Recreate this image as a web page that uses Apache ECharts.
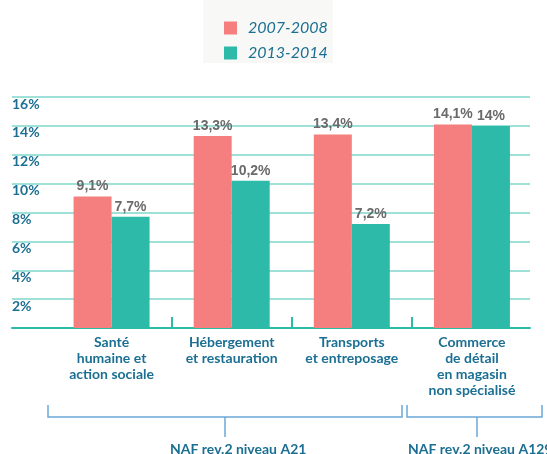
<!DOCTYPE html>
<html>
<head>
<meta charset="utf-8">
<style>
  html, body { margin: 0; padding: 0; background: #ffffff; }
  #chart { width: 547px; height: 454px; }
</style>
<script src="https://cdn.jsdelivr.net/npm/echarts@6/dist/echarts.min.js"></script>
</head>
<body>
<div id="chart"></div>
<script>
// Sectors compared between two periods (share, in %)
const categories = [
  'Santé\nhumaine et\naction sociale',
  'Hébergement\net restauration',
  'Transports\net entreposage',
  'Commerce\nde détail\nen magasin\nnon spécialisé'
];
const seriesNames = ['2007-2008', '2013-2014'];
const values2007 = [9.1, 13.3, 13.4, 14.1];
const values2013 = [7.7, 10.2, 7.2, 14.0];
const yTicks = [0, 2, 4, 6, 8, 10, 12, 14, 16];
const groupLabels = ['NAF rev.2 niveau A21', 'NAF rev.2 niveau A129'];

const PINK = '#f47f7e';
const TEAL = '#2dbaa9';
const TEXT = '#1b6f93';
const BRACKET = '#6aa8d8';
const FONT = 'Lato, "Open Sans", sans-serif';

const fmt = v => String(v).replace('.', ',') + '%';

// boundaries between neighbouring categories (interior only)
const innerBoundaries = categories.slice(1).map((_, i) => i + 1);

const chart = echarts.init(document.getElementById('chart'), null, { renderer: 'canvas' });

const gridTop = 97, gridBottom = 126;

const valueLabel = {
  show: true, position: 'top', distance: 3, color: '#6a6a6a',
  fontSize: 14, fontWeight: 'bold', fontFamily: '"Liberation Sans", Arial, sans-serif',
  formatter: p => fmt(p.value)
};

chart.setOption({
  backgroundColor: '#ffffff',
  animation: false,
  graphic: [
    // legend panel
    { type: 'rect', left: 203, top: 0, shape: { width: 130, height: 63 },
      style: { fill: '#f8f8f6' }, z: -1, silent: true },
    // group brackets
    { type: 'polyline', shape: { points: [[48, 405], [48, 417], [402, 417], [402, 405]] },
      style: { stroke: BRACKET, lineWidth: 1.5, fill: null } },
    { type: 'line', shape: { x1: 225, y1: 417, x2: 225, y2: 437 },
      style: { stroke: BRACKET, lineWidth: 1.5 } },
    { type: 'polyline', shape: { points: [[407, 405], [407, 417], [542, 417], [542, 405]] },
      style: { stroke: BRACKET, lineWidth: 1.5, fill: null } },
    { type: 'line', shape: { x1: 477, y1: 417, x2: 477, y2: 437 },
      style: { stroke: BRACKET, lineWidth: 1.5 } },
    { type: 'text', left: 170, top: 442,
      style: { text: groupLabels[0], fill: TEXT, font: 'bold 14px ' + FONT } },
    { type: 'text', left: 408, top: 442,
      style: { text: groupLabels[1], fill: TEXT, font: 'bold 14px ' + FONT } }
  ],
  legend: {
    data: seriesNames,
    orient: 'vertical',
    left: 219,
    top: 15,
    itemWidth: 13,
    itemHeight: 13,
    itemGap: 9,
    icon: 'rect',
    textStyle: { color: TEXT, fontSize: 16, fontStyle: 'italic', fontFamily: FONT, padding: [0, 0, 0, 6] }
  },
  grid: [
    { left: 12, right: 17, top: gridTop, bottom: gridBottom },
    { left: 51.5, right: 15, top: gridTop, bottom: gridBottom }
  ],
  xAxis: [
    {
      gridIndex: 0, type: 'category', data: [''],
      axisLine: { show: true, lineStyle: { color: TEAL, width: 2 } },
      axisTick: { show: false }, axisLabel: { show: false }, splitLine: { show: false }
    },
    {
      gridIndex: 1, type: 'category', data: categories,
      axisLine: { show: false },
      axisTick: { show: false },
      axisLabel: {
        interval: 0, margin: 6, color: TEXT, fontSize: 14, fontWeight: 'bold',
        fontFamily: FONT, lineHeight: 16, align: 'center'
      }
    },
    {
      // separator ticks between categories
      gridIndex: 1, type: 'value', min: 0, max: categories.length, interval: 1,
      position: 'bottom',
      axisLine: { show: false },
      axisLabel: { show: false },
      splitLine: { show: false },
      axisTick: {
        show: true, inside: true, length: 11,
        customValues: innerBoundaries,
        lineStyle: { color: TEAL, width: 2 }
      }
    }
  ],
  yAxis: [
    {
      gridIndex: 0, type: 'value', min: yTicks[0], max: yTicks[yTicks.length - 1], interval: 2,
      axisLine: { show: false }, axisTick: { show: false },
      splitLine: { show: true, lineStyle: { color: '#7fd6cb', width: 1.5 } },
      axisLabel: {
        inside: true, margin: 0, verticalAlign: 'top', align: 'left',
        color: TEXT, fontSize: 14, fontWeight: 'bold', fontFamily: FONT,
        formatter: v => (v === 0 ? '' : v + '%')
      }
    },
    {
      gridIndex: 1, type: 'value', min: yTicks[0], max: yTicks[yTicks.length - 1], interval: 2,
      show: false
    }
  ],
  series: [
    {
      name: seriesNames[0], type: 'bar', xAxisIndex: 1, yAxisIndex: 1,
      data: values2007, barWidth: 38, barGap: 0,
      itemStyle: { color: PINK },
      label: valueLabel
    },
    {
      name: seriesNames[1], type: 'bar', xAxisIndex: 1, yAxisIndex: 1,
      data: values2013, barWidth: 38, barGap: 0,
      itemStyle: { color: TEAL },
      label: valueLabel
    }
  ]
});
</script>
</body>
</html>
